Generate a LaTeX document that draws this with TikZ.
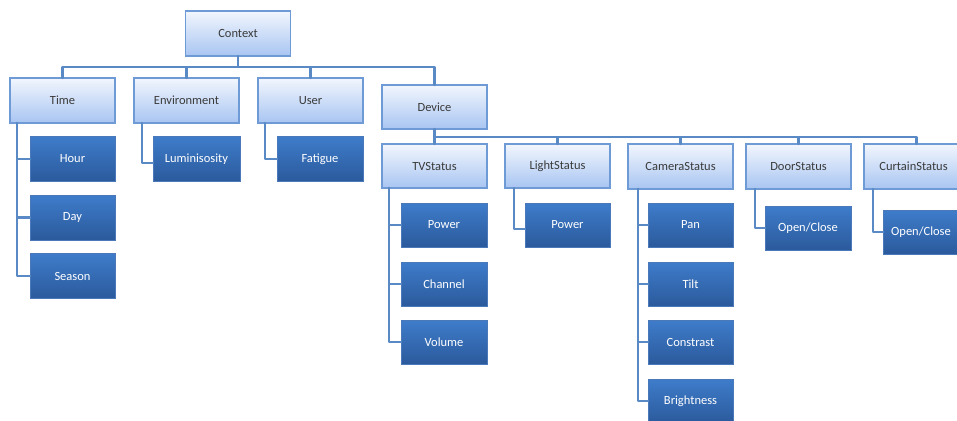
\documentclass[tikz,border=0pt]{standalone}
\usepackage{fontspec}
\setmainfont{Carlito}
\definecolor{linkblue}{HTML}{5A8AC6}
\definecolor{lighttop}{HTML}{F2F6FD}
\definecolor{lightbot}{HTML}{A8C5F2}
\definecolor{lightedge}{HTML}{6E9AD6}
\definecolor{darktop}{HTML}{3E7CCA}
\definecolor{darkbot}{HTML}{2B5A9C}
\definecolor{darkedge}{HTML}{4A78B8}
\definecolor{labelgray}{HTML}{3A3A3A}
\begin{document}
\begin{tikzpicture}[x=1pt,y=-1pt,
  every node/.style={inner sep=0pt,outer sep=0pt,font=\fontsize{12.5}{14}\selectfont},
  catbox/.style={rectangle,draw=lightedge,line width=1.4pt,top color=lighttop,bottom color=lightbot,
    text=labelgray,minimum width=105pt,minimum height=45pt},
  leafbox/.style={rectangle,draw=darkedge,line width=1pt,top color=darktop,bottom color=darkbot,
    text=white,minimum width=86pt,minimum height=45pt},
  link/.style={draw=linkblue,line width=2.4pt,line cap=round,line join=round}]
\useasboundingbox (0,0) rectangle (957,420);
\begin{scope}
\clip (0,0) rectangle (957,420);
% levels 0 and 1
\node[catbox] (ctx) at (238,33.5) {Context};
\node[catbox] (time) at (62.5,100.5) {Time};
\node[catbox] (env) at (186.5,100.5) {Environment};
\node[catbox] (user) at (310.5,100.5) {User};
\node[catbox,minimum height=44pt] (dev) at (434.5,107) {Device};
% device status nodes
\node[catbox,minimum height=44pt] (tv) at (434.5,166) {TVStatus};
\node[catbox,minimum height=44pt] (light) at (557.5,166) {LightStatus};
\node[catbox] (cam) at (680.5,166.5) {CameraStatus};
\node[catbox] (door) at (798.5,166.5) {DoorStatus};
\node[catbox,text width=93pt,align=center] (curt) at (916.5,166.5) {\hspace*{-6pt}CurtainStatus};
% leaves
\node[leafbox,minimum width=85pt] (hour) at (72.5,159) {Hour};
\node[leafbox,minimum width=85pt] (day) at (72.5,217.5) {Day};
\node[leafbox,minimum width=85pt] (season) at (72.5,276) {Season};
\node[leafbox,minimum width=87pt] (lum) at (196.5,159) {Luminisosity};
\node[leafbox] (fat) at (320,159) {Fatigue};
\node[leafbox,minimum height=44pt] (tvpow) at (444,225) {Power};
\node[leafbox,minimum height=44pt] (chan) at (444,284) {Channel};
\node[leafbox,minimum height=44pt] (vol) at (444,342) {Volume};
\node[leafbox,minimum width=85pt,minimum height=44pt] (ltpow) at (567.5,225) {Power};
\node[leafbox,minimum width=85pt,minimum height=44pt] (pan) at (690.5,225) {Pan};
\node[leafbox,minimum width=85pt,minimum height=44pt] (tilt) at (690.5,284) {Tilt};
\node[leafbox,minimum width=85pt,minimum height=44pt] (con) at (690.5,342) {Constrast};
\node[leafbox,minimum width=85pt,minimum height=44pt] (bri) at (690.5,401) {Brightness};
\node[leafbox,minimum height=44pt] (dooroc) at (808,228) {Open/Close};
\node[leafbox,minimum height=44pt,text width=86pt,align=center] (curtoc) at (926,232) {\hspace*{-10pt}Open/Close};
% bus lines
\coordinate (busA) at (0,67);
\coordinate (busB) at (0,137);
\path[link] (ctx.south) -- (ctx.south |- busA) -| (time.north);
\path[link] (ctx.south |- busA) -| (env.north);
\path[link] (ctx.south |- busA) -| (user.north);
\path[link] (ctx.south |- busA) -| (dev.north);
\path[link] (dev.south) -- (dev.south |- busB) -| (tv.north);
\path[link] (dev.south |- busB) -| (light.north);
\path[link] (dev.south |- busB) -| (cam.north);
\path[link] (dev.south |- busB) -| (door.north);
\path[link] (dev.south |- busB) -| (curt.north);
% child spines
\coordinate (tsp) at ([xshift=7pt]time.south west);
\path[link] (tsp) |- (hour.west);
\path[link] (tsp) |- (day.west);
\path[link] (tsp) |- (season.west);
\coordinate (esp) at ([xshift=8pt]env.south west);
\path[link] (esp) |- ([yshift=-4pt]lum.west);
\coordinate (usp) at ([xshift=7pt]user.south west);
\path[link] (usp) |- (fat.west);
\coordinate (tvsp) at ([xshift=7pt]tv.south west);
\path[link] (tvsp) |- (tvpow.west);
\path[link] (tvsp) |- (chan.west);
\path[link] (tvsp) |- (vol.west);
\coordinate (lsp) at ([xshift=9pt]light.south west);
\path[link] (lsp) |- ([yshift=-4pt]ltpow.west);
\coordinate (csp) at ([xshift=10pt]cam.south west);
\path[link] (csp) |- (pan.west);
\path[link] (csp) |- (tilt.west);
\path[link] (csp) |- (con.west);
\path[link] (csp) |- (bri.west);
\coordinate (dsp) at ([xshift=9pt]door.south west);
\path[link] (dsp) |- (dooroc.west);
\coordinate (crsp) at ([xshift=9pt]curt.south west);
\path[link] (crsp) |- (curtoc.west);
\end{scope}
\end{tikzpicture}
\end{document}
